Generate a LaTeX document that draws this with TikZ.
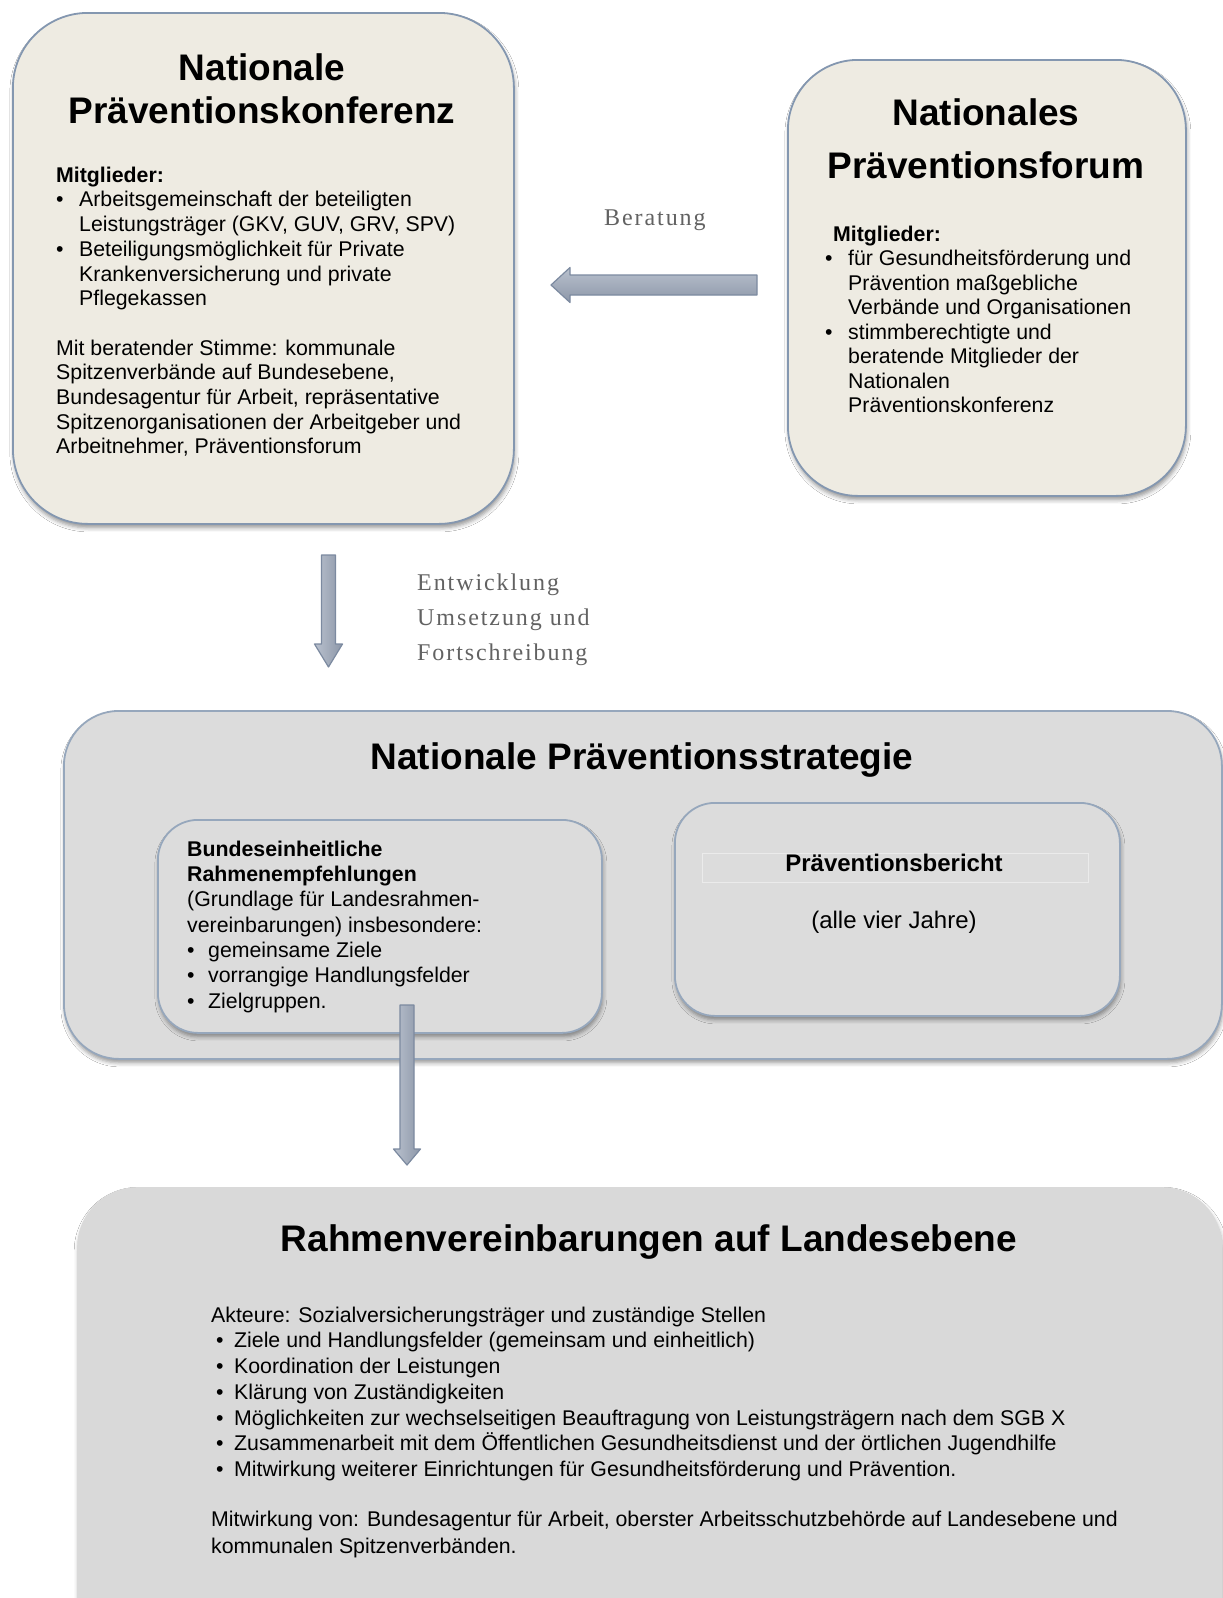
\documentclass[tikz,border=0pt]{standalone}
\usepackage{fontspec}
\setmainfont{Liberation Sans}
\newfontfamily\lblfont[LetterSpace=8]{Liberation Serif}
\usetikzlibrary{shadows.blur,calc}
\definecolor{beige}{HTML}{EEEBE2}
\definecolor{boxedge}{HTML}{8497B0}
\definecolor{grayfill}{HTML}{DCDCDC}
\definecolor{lowfill}{HTML}{D9D9D9}
\definecolor{arrowtop}{HTML}{B9C1CE}
\definecolor{arrowbot}{HTML}{8D97A8}
\definecolor{arrowedge}{HTML}{7C8AA0}
\definecolor{lblgray}{HTML}{626262}
\newcommand\mybul[1][23pt]{\makebox[#1][l]{\textbullet}}
\newcommand\myind[1][23pt]{\hspace*{#1}}
\begin{document}
\begin{tikzpicture}[x=1pt,y=-1pt,
  bigbox/.style={draw=boxedge, line width=1.8pt, inner sep=0pt, anchor=north west,
    blur shadow={shadow xshift=1pt,shadow yshift=-4pt,shadow blur radius=4pt,shadow opacity=40}},
  flatbox/.style={inner sep=0pt, anchor=north west,
    blur shadow={shadow xshift=1pt,shadow yshift=-4pt,shadow blur radius=4pt,shadow opacity=30}},
  titletext/.style={font=\fontsize{37}{42}\selectfont\bfseries, inner sep=0pt, anchor=base},
  bodytext/.style={font=\fontsize{21.3}{24.7}\selectfont, inner sep=0pt, anchor=north west, align=left},
  lbltext/.style={font=\lblfont\fontsize{24}{35}\selectfont, text=lblgray, inner sep=0pt, align=left},
  blockarrow/.style={draw=arrowedge, line width=1.2pt, line join=round},
]
\useasboundingbox (0,0) rectangle (1223,1598);
\fill[white] (0,0) rectangle (1223,1598);

% ---------- top boxes ----------
\node[bigbox, fill=beige, rounded corners=75pt, minimum width=501pt, minimum height=511pt] (konf) at (12,12) {};
\node[bigbox, fill=beige, rounded corners=70pt, minimum width=398pt, minimum height=436pt] (forum) at (787,59) {};

\node[titletext] (konfT1) at (262,80) {Nationale};
\node[titletext] (konfT2) at (262,123) {Präventionskonferenz};
\node[bodytext] (konfB) at (56,162) {\rule{0pt}{20pt}\textbf{Mitglieder:}\\
\mybul Arbeitsgemeinschaft der beteiligten\\
\myind Leistungsträger (GKV, GUV, GRV, SPV)\\
\mybul Beteiligungsmöglichkeit für Private\\
\myind Krankenversicherung und private\\
\myind Pflegekassen\\[24.7pt]
Mit beratender Stimme: kommunale\\
Spitzenverbände auf Bundesebene,\\
Bundesagentur für Arbeit, repräsentative\\
Spitzenorganisationen der Arbeitgeber und\\
Arbeitnehmer, Präventionsforum};

\node[titletext] (forumT1) at (986,125) {Nationales};
\node[titletext] (forumT2) at (986,178) {Präventionsforum};
\node[bodytext, font=\fontsize{21.3}{24.5}\selectfont] (forumB) at (825,221) {\rule{0pt}{20pt}\hspace*{8pt}\textbf{Mitglieder:}\\
\mybul für Gesundheitsförderung und\\
\myind Prävention maßgebliche\\
\myind Verbände und Organisationen\\
\mybul stimmberechtigte und\\
\myind beratende Mitglieder der\\
\myind Nationalen\\
\myind Präventionskonferenz};

% Beratung arrow
\coordinate (berTail) at (757,285);
\coordinate (berTip) at (551,285);
\draw[blockarrow, top color=arrowtop, bottom color=arrowbot]
  ($(berTail)+(0,-10)$) -- ($(berTip)+(19,-10)$) -- ($(berTip)+(19,-17.5)$) -- (berTip)
  -- ($(berTip)+(19,17.5)$) -- ($(berTip)+(19,10)$) -- ($(berTail)+(0,10)$) -- cycle;
\node[lbltext, anchor=base west] (berLbl) at (604,225) {Beratung};

% Entwicklung arrow
\coordinate (entTail) at (328.5,555);
\coordinate (entTip) at (328.5,667);
\draw[blockarrow, left color=arrowtop, right color=arrowbot]
  ($(entTail)+(-7,0)$) -- ($(entTip)+(-7,-23)$) -- ($(entTip)+(-14,-23)$) -- (entTip)
  -- ($(entTip)+(14,-23)$) -- ($(entTip)+(7,-23)$) -- ($(entTail)+(7,0)$) -- cycle;
\node[lbltext, anchor=north west] (entLbl) at (417,572) {\rule{0pt}{18pt}Entwicklung\\Umsetzung und\\Fortschreibung};

% ---------- strategy ----------
\node[bigbox, fill=grayfill, draw=boxedge!85, rounded corners=55pt, minimum width=1158pt, minimum height=348pt] (strat) at (63,710) {};
\node[titletext] (stratT) at (642,769) {Nationale Präventionsstrategie};

\node[bigbox, fill=grayfill, draw=boxedge!85, rounded corners=40pt, minimum width=444pt, minimum height=213pt] (rahmenEmpf) at (157,819) {};
\node[bigbox, fill=grayfill, draw=boxedge!85, rounded corners=40pt, minimum width=445pt, minimum height=213pt] (bericht) at (674,802) {};

\begin{scope}
\clip (150,820) rectangle (600,1012);
\node[bodytext, font=\fontsize{21.3}{25.3}\selectfont] (rahmenEmpfB) at (187,836) {\rule{0pt}{20pt}\textbf{Bundeseinheitliche}\\
\textbf{Rahmenempfehlungen}\\
(Grundlage für Landesrahmen-\\
vereinbarungen) insbesondere:\\
\mybul[21pt]gemeinsame Ziele\\
\mybul[21pt]vorrangige Handlungsfelder\\
\mybul[21pt]Zielgruppen.};
\end{scope}

\draw[white, opacity=0.45, line width=0.8pt] (702,853) rectangle (1088,882);
\node[inner sep=0pt, anchor=base, font=\fontsize{24}{28}\selectfont\bfseries] (berichtT) at (894,871) {Präventionsbericht};
\node[inner sep=0pt, anchor=base, font=\fontsize{24}{28}\selectfont] (berichtB) at (894,928) {(alle vier Jahre)};

% ---------- Landesebene ----------
\node[flatbox, fill=lowfill, rounded corners=60pt, minimum width=1145pt, minimum height=470pt] (land) at (77,1187) {};
\node[titletext] (landT) at (649,1251) {Rahmenvereinbarungen auf Landesebene};
\node[bodytext, font=\fontsize{21.3}{25.7}\selectfont] (landB) at (211,1302) {\rule{0pt}{20pt}Akteure: Sozialversicherungsträger und zuständige Stellen\\
\makebox[23pt][l]{\hspace{5pt}\textbullet}Ziele und Handlungsfelder (gemeinsam und einheitlich)\\
\makebox[23pt][l]{\hspace{5pt}\textbullet}Koordination der Leistungen\\
\makebox[23pt][l]{\hspace{5pt}\textbullet}Klärung von Zuständigkeiten\\
\makebox[23pt][l]{\hspace{5pt}\textbullet}Möglichkeiten zur wechselseitigen Beauftragung von Leistungsträgern nach dem SGB X\\
\makebox[23pt][l]{\hspace{5pt}\textbullet}Zusammenarbeit mit dem Öffentlichen Gesundheitsdienst und der örtlichen Jugendhilfe\\
\makebox[23pt][l]{\hspace{5pt}\textbullet}Mitwirkung weiterer Einrichtungen für Gesundheitsförderung und Prävention.};
\node[bodytext, font=\fontsize{21.3}{27}\selectfont] (landC) at (211,1506) {\rule{0pt}{20pt}Mitwirkung von: Bundesagentur für Arbeit, oberster Arbeitsschutzbehörde auf Landesebene und\\
kommunalen Spitzenverbänden.};

% Arrow strategy -> Landesebene
\coordinate (landTail) at (407,1005);
\coordinate (landTip) at (407,1165);
\draw[blockarrow, left color=arrowtop, right color=arrowbot]
  ($(landTail)+(-7,0)$) -- ($(landTip)+(-7,-16)$) -- ($(landTip)+(-13.5,-16)$) -- (landTip)
  -- ($(landTip)+(13.5,-16)$) -- ($(landTip)+(7,-16)$) -- ($(landTail)+(7,0)$) -- cycle;
\end{tikzpicture}
\end{document}
